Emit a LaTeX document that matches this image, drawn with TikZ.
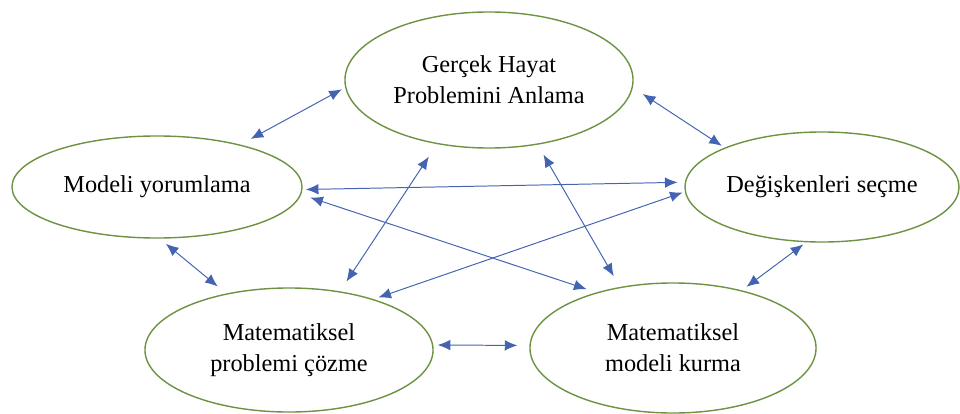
\documentclass[tikz,border=0pt]{standalone}
\usepackage{fontspec}
\setmainfont{Liberation Serif}
\usepackage{tikz}
\usetikzlibrary{shapes.geometric, arrows.meta}
\definecolor{ovalgreen}{RGB}{108,146,66}
\definecolor{linkblue}{RGB}{68,100,178}

\begin{document}
\begin{tikzpicture}[
    x=0.025cm, y=-0.025cm,
    stage/.style={ellipse, draw=ovalgreen, line width=1pt, inner sep=0pt, align=center, font=\fontsize{17.3}{22}\selectfont},
    link/.style={{Latex[length=9pt,width=7.5pt]}-{Latex[length=9pt,width=7.5pt]}, draw=linkblue, line width=0.7pt}
]
    \useasboundingbox (0,0) rectangle (960,414);

    \node[stage, minimum width=7.2cm, minimum height=3.4cm] (real) at (489,80) {Gerçek Hayat\\Problemini Anlama};
    \node[stage, minimum width=7.25cm, minimum height=2.55cm] (interpret) at (157,187) {Modeli yorumlama};
    \node[stage, minimum width=6.85cm, minimum height=2.75cm] (variables) at (822,187) {Değişkenleri seçme};
    \node[stage, minimum width=7.2cm, minimum height=3.1cm] (solve) at (289,350) {Matematiksel\\problemi çözme};
    \node[stage, minimum width=7.15cm, minimum height=3.25cm] (model) at (673,348) {Matematiksel\\modeli kurma};

    \draw[link, shorten <=2.7pt, shorten >=8.4pt] (real.183) -- (interpret.27);
    \draw[link, shorten <=8.4pt, shorten >=2.3pt] (real.357) -- (variables.158);
    \draw[link, shorten <=2.3pt, shorten >=5.1pt] (interpret.359) -- (variables.178);
    \draw[link, shorten <=6.8pt, shorten >=7.4pt] (interpret.357) -- (model.144);
    \draw[link, shorten <=1.6pt, shorten >=3.5pt] (variables.182) -- (solve.31);
    \draw[link, shorten <=10.6pt, shorten >=8.3pt] (real.231) -- (solve.49);
    \draw[link, shorten <=8.1pt, shorten >=8.8pt] (real.307) -- (model.131);
    \draw[link, shorten <=5.7pt, shorten >=7.8pt] (interpret.273) -- (solve.138);
    \draw[link, shorten <=2.5pt, shorten >=4.1pt] (variables.254) -- (model.40);
    \draw[link, shorten <=3.1pt, shorten >=8.5pt] (solve.2) -- (model.179);
\end{tikzpicture}
\end{document}
